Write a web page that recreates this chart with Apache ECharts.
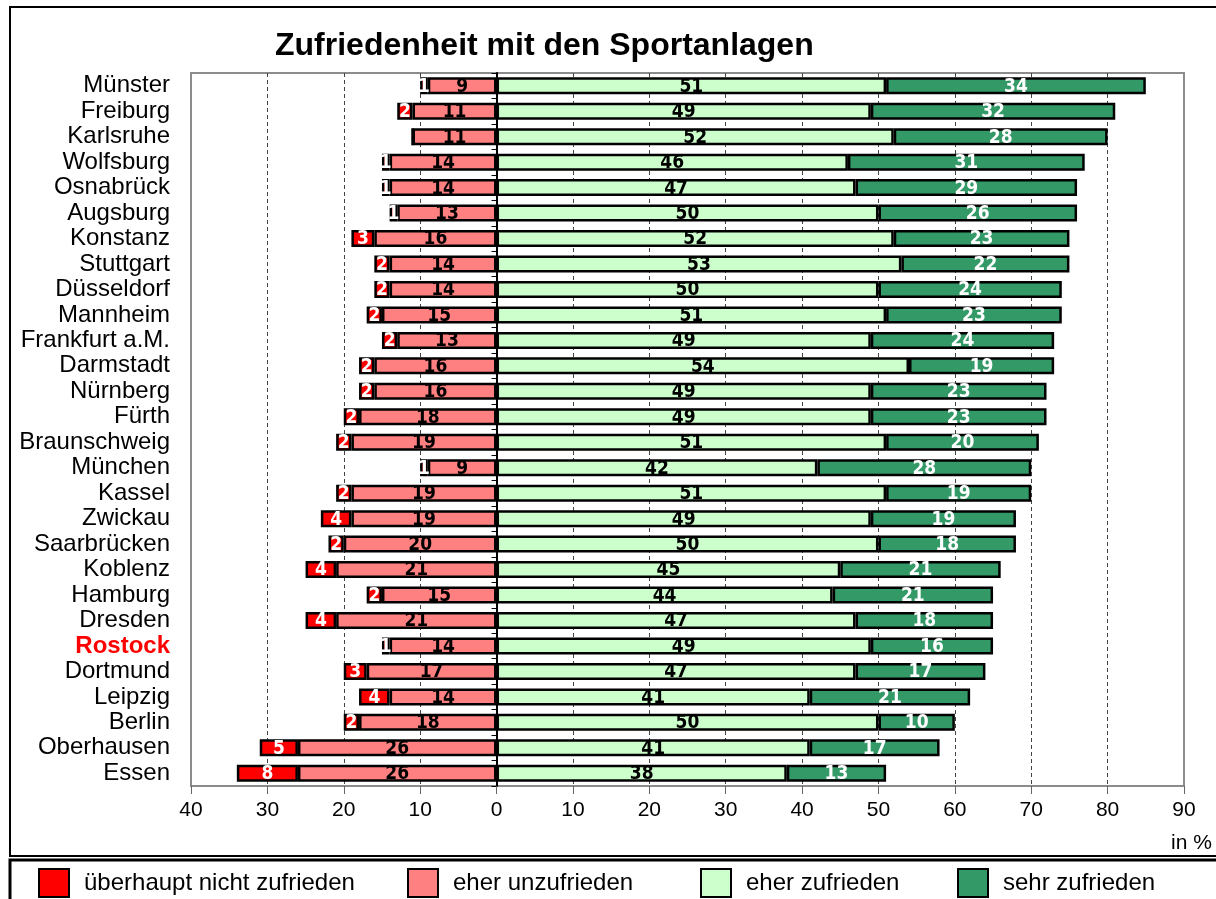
<!DOCTYPE html>
<html>
<head>
<meta charset="utf-8">
<script src="https://cdn.jsdelivr.net/npm/echarts@6/dist/echarts.min.js"></script>
<style>
  html, body { margin: 0; padding: 0; background: #fff; }
  #main { width: 1216px; height: 899px; }
</style>
</head>
<body>
<div id="main"></div>
<script>
var cities = ['Münster', 'Freiburg', 'Karlsruhe', 'Wolfsburg', 'Osnabrück', 'Augsburg', 'Konstanz',
  'Stuttgart', 'Düsseldorf', 'Mannheim', 'Frankfurt a.M.', 'Darmstadt', 'Nürnberg', 'Fürth',
  'Braunschweig', 'München', 'Kassel', 'Zwickau', 'Saarbrücken', 'Koblenz', 'Hamburg', 'Dresden',
  'Rostock', 'Dortmund', 'Leipzig', 'Berlin', 'Oberhausen', 'Essen'];

// überhaupt nicht zufrieden
var notAtAll = [1, 2, 0, 1, 1, 1, 3, 2, 2, 2, 2, 2, 2, 2, 2, 1, 2, 4, 2, 4, 2, 4, 1, 3, 4, 2, 5, 8];
// eher unzufrieden
var ratherNot = [9, 11, 11, 14, 14, 13, 16, 14, 14, 15, 13, 16, 16, 18, 19, 9, 19, 19, 20, 21, 15, 21, 14, 17, 14, 18, 26, 26];
// eher zufrieden
var rather = [51, 49, 52, 46, 47, 50, 52, 53, 50, 51, 49, 54, 49, 49, 51, 42, 51, 49, 50, 45, 44, 47, 49, 47, 41, 50, 41, 38];
// sehr zufrieden
var very = [34, 32, 28, 31, 29, 26, 23, 22, 24, 23, 24, 19, 23, 23, 20, 28, 19, 19, 18, 21, 21, 18, 16, 17, 21, 10, 17, 13];

var highlight = 'Rostock';
var font = 'Arial, "Liberation Sans", sans-serif';
var narrow = '"Liberation Sans Narrow", "Arial Narrow", "DejaVu Sans Condensed", Arial, sans-serif';

var chart = echarts.init(document.getElementById('main'));

function neg(arr) {
  return arr.map(function (v) { return -v; });
}

function barSeries(name, data, color, textColor) {
  return {
    name: name,
    type: 'bar',
    stack: 'total',
    yAxisIndex: 0,
    barWidth: 17,
    data: data,
    itemStyle: { color: color, borderColor: '#000', borderWidth: 2.5 },
    label: {
      show: true,
      position: 'inside',
      offset: [0, 1],
      color: textColor,
      fontFamily: narrow,
      fontWeight: 'bold',
      fontSize: 19,
      formatter: function (p) {
        return p.value === 0 ? '' : String(Math.abs(p.value));
      }
    },
    emphasis: { disabled: true }
  };
}

function legendItem(name, left) {
  return {
    data: [name],
    left: left,
    top: 868,
    padding: 0,
    icon: 'rect',
    itemWidth: 30,
    itemHeight: 28,
    textStyle: { fontFamily: font, fontSize: 24, color: '#000', padding: [0, 0, 0, 10] },
    selectedMode: false
  };
}

var option = {
  animation: false,
  backgroundColor: '#fff',
  title: [{
    text: 'Zufriedenheit mit den Sportanlagen',
    left: 270,
    top: 25,
    textStyle: { fontFamily: font, fontSize: 32, fontWeight: 'bold', color: '#000' }
  }, {
    text: 'in %',
    left: 1166,
    top: 828,
    textStyle: { fontFamily: font, fontSize: 21, fontWeight: 'normal', color: '#000' }
  }],
  legend: [
    legendItem('überhaupt nicht zufrieden', 38),
    legendItem('eher unzufrieden', 407),
    legendItem('eher zufrieden', 700),
    legendItem('sehr zufrieden', 957)
  ],
  graphic: [{
    type: 'rect',
    shape: { x: 10, y: 7, width: 1220, height: 849 },
    style: { fill: null, stroke: '#000', lineWidth: 2 },
    silent: true
  }, {
    type: 'rect',
    shape: { x: 10, y: 860, width: 1220, height: 60 },
    style: { fill: null, stroke: '#000', lineWidth: 3 },
    silent: true
  }],
  grid: {
    left: 191,
    right: 32,
    top: 73,
    bottom: 113,
    show: true,
    borderColor: '#8c8c8c',
    borderWidth: 2
  },
  xAxis: {
    type: 'value',
    min: -40,
    max: 90,
    interval: 10,
    axisLine: { show: false },
    axisTick: { show: true, length: 8, lineStyle: { color: '#666', width: 1 } },
    axisLabel: {
      margin: 14,
      fontFamily: font,
      fontSize: 21,
      color: '#000',
      formatter: function (v) { return String(Math.abs(v)); }
    },
    splitLine: {
      show: true,
      showMinLine: false,
      showMaxLine: false,
      lineStyle: { color: '#444', width: 1, type: [4, 3] }
    }
  },
  yAxis: [{
    type: 'category',
    data: cities,
    inverse: true,
    position: 'left',
    axisLine: { show: false, onZero: false },
    axisTick: { show: false },
    axisLabel: {
      interval: 0,
      margin: 21,
      fontFamily: font,
      fontSize: 24,
      color: '#000',
      formatter: function (v) {
        return v === highlight ? '{hl|' + v + '}' : v;
      },
      rich: {
        hl: { color: '#ff0000', fontWeight: 'bold', fontSize: 24, fontFamily: font }
      }
    },
    splitLine: { show: false }
  }, {
    type: 'category',
    data: cities,
    inverse: true,
    position: 'left',
    axisLine: { show: true, onZero: true, lineStyle: { color: '#000', width: 2 } },
    axisTick: { show: true, interval: 0, length: 5, lineStyle: { color: '#000', width: 1 } },
    axisLabel: { show: false },
    splitLine: { show: false }
  }],
  series: [
    barSeries('eher unzufrieden', neg(ratherNot), '#ff8080', '#000'),
    barSeries('überhaupt nicht zufrieden', neg(notAtAll), '#ff0000', '#fff'),
    barSeries('eher zufrieden', rather, '#ccffcc', '#000'),
    barSeries('sehr zufrieden', very, '#339966', '#fff')
  ]
};

chart.setOption(option);
</script>
</body>
</html>
